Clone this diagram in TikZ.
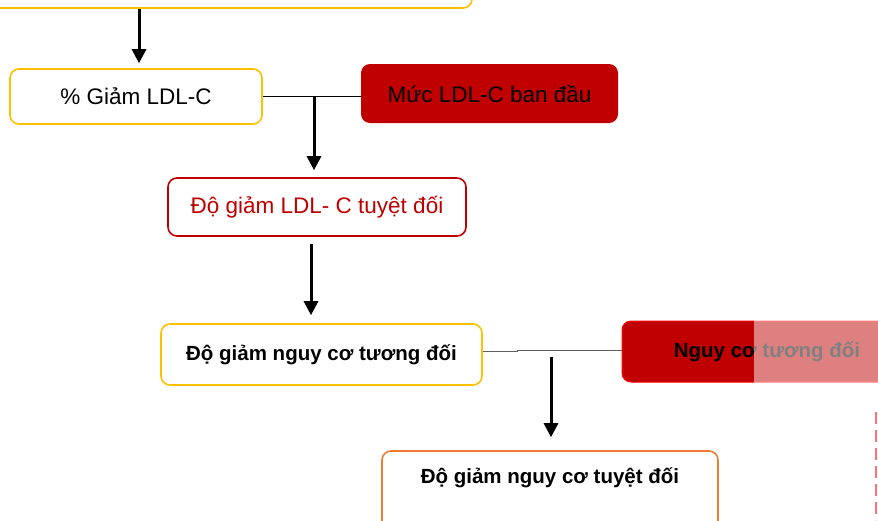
\documentclass[tikz,border=0pt]{standalone}
\usepackage{fontspec}
\setmainfont{Liberation Sans}
\usetikzlibrary{arrows.meta}
\definecolor{yel}{HTML}{FFC000}
\definecolor{dred}{HTML}{C00000}
\definecolor{org}{HTML}{ED7D31}
\definecolor{bred}{HTML}{FF0000}
\definecolor{lgray}{HTML}{606060}
\tikzset{
  box/.style={rectangle, rounded corners=9pt, line width=1.6pt, fill=white, inner sep=0pt, font=\fontsize{22.5}{26}\selectfont},
  boldtxt/.style={font=\fontsize{20.5}{24}\selectfont\bfseries},
  redfill/.style={rectangle, rounded corners=9pt, fill=dred, inner sep=0pt, font=\fontsize{22.5}{26}\selectfont},
  arr/.style={line width=3pt, -{Triangle[width=14pt,length=14pt]}},
  thin line/.style={line width=1pt}
}
\begin{document}
\begin{tikzpicture}[x=1pt,y=-1pt]
\useasboundingbox (0,0) rectangle (878,520);
% top box (partially visible)
\node[box, draw=yel, minimum width=492pt, minimum height=68pt] (top) at (226,-26) {};
% box 1
\node[box, draw=yel, minimum width=252pt, minimum height=55pt] (a) at (136,96.5) {\% Giảm LDL-C};
% Muc LDL-C
\node[redfill, minimum width=257pt, minimum height=59pt] (m) at (489.5,93.5) {Mức LDL-C ban đầu};
% box 2
\node[box, draw=dred, text=dred, minimum width=298pt, minimum height=58pt] (b) at (317,207) {Độ giảm LDL- C tuyệt đối};
% box 3
\node[box, boldtxt, draw=yel, minimum width=321pt, minimum height=61pt] (c) at (321.5,354.5) {Độ giảm nguy cơ tương đối};
% Nguy co box
\node[redfill, boldtxt, draw=bred, line width=1pt, minimum width=290pt, minimum height=61pt] (n) at (767,351.5) {Nguy cơ tương đối};
\fill[white, opacity=0.5] (754,320) rectangle (878,383);
% box 4
\node[box, draw=org, minimum width=336pt, minimum height=94pt] (d) at (550,498) {};
\node[boldtxt, inner sep=0pt] (dt) at (550,478) {Độ giảm nguy cơ tuyệt đối};
% coordinates
\coordinate (j1) at (314,96);
\coordinate (k1) at (288,96);
\coordinate (x1) at (139,0);
\coordinate (x2) at (311,0);
\coordinate (k2) at (517,350);
\coordinate (j2) at (551,357);
% connectors
\draw[arr, shorten >=5pt] (top.south -| x1) -- (a.north -| x1);
\draw[thin line] (a.east) -| (k1) -- (k1 -| m.west);
\draw[arr, shorten >=7pt] (j1) -- (b.north -| j1);
\draw[arr, shorten <=7pt, shorten >=8pt] (b.south -| x2) -- (c.north -| x2);
\draw[thin line, lgray] ([yshift=3.5pt]c.east) -| (k2) -- (k2 -| n.west);
\draw[arr, shorten >=13pt] (j2) -- (d.north -| j2);
% faint dashed edge marks
\draw[bred!55, line width=2pt, dash pattern=on 12pt off 6pt] (876,412) -- (876,520);
\end{tikzpicture}
\end{document}
